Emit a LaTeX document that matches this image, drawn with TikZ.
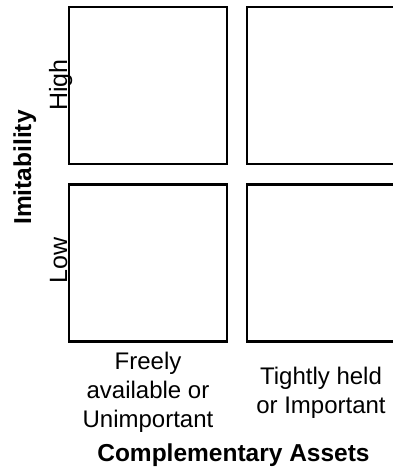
\documentclass[tikz,border=0pt]{standalone}
\usepackage{fontspec}
\setmainfont{Liberation Sans}
\begin{document}
\begin{tikzpicture}[x=1pt, y=-1pt,
                    cell/.style={draw, line width=2.5pt, minimum width=158pt,
                                 minimum height=157pt, inner sep=0pt},
                    lab/.style={inner sep=0pt, align=center,
                                font=\fontsize{24}{29}\selectfont},
                    side/.style={inner sep=0pt, rotate=90, anchor=base,
                                 font=\fontsize{25}{29}\selectfont},
                    title/.style={inner sep=0pt, anchor=base,
                                  font=\fontsize{24.5}{29}\selectfont\bfseries}]
    \useasboundingbox (0,0) rectangle (393,469);
    \clip (0,0) rectangle (393,469);
    % the four cells
    \node[cell] (hifree)  at (148,85.3)  {};
    \node[cell] (hitight) at (326,85.3)  {};
    \node[cell] (lofree)  at (148,262.9) {};
    \node[cell] (lotight) at (326,262.9) {};
    % axis labels
    \node[side] (high) at (67,85)    {High};
    \node[side] (low)  at (67,260.5) {Low};
    \node[title, rotate=90] (imit) at (31,167.5) {Imitability};
    \node[lab, anchor=base] (free)  at (148,427) {Freely\\available or\\Unimportant};
    \node[lab, anchor=base] (tight) at (321,413) {Tightly held\\or Important};
    \node[title] (assets) at (233.5,461) {Complementary Assets};
\end{tikzpicture}
\end{document}
